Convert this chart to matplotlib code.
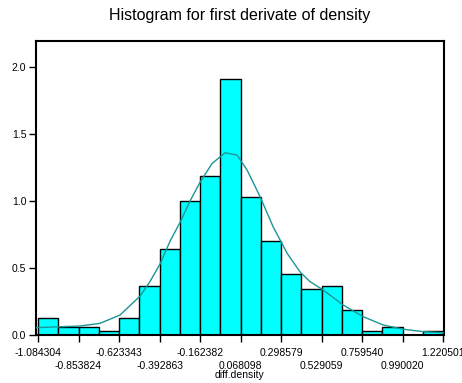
import numpy as np
import matplotlib
matplotlib.use('Agg')
import matplotlib.pyplot as plt

plt.rcParams['font.family'] = ['Liberation Sans', 'DejaVu Sans']

# histogram bin densities (20 bins)
bin_lo, bin_hi = -1.084304, 1.220501
densities = [0.124, 0.062, 0.062, 0.031, 0.124, 0.366, 0.640, 1.002, 1.184, 1.913,
             1.032, 0.699, 0.457, 0.341, 0.366, 0.184, 0.031, 0.062, 0.0, 0.031]

tick_labels = ['-1.084304', '-0.853824', '-0.623343', '-0.392863', '-0.162382', '0.068098',
               '0.298579', '0.529059', '0.759540', '0.990020', '1.220501']

# density curve
curve_x = [-1.0957, -0.8453, -0.7315, -0.6177, -0.5038, -0.4469, -0.3900, -0.3331, -0.2762,
           -0.2193, -0.1624, -0.0941, -0.0201, 0.0482, 0.1051, 0.1791, 0.2531, 0.3328,
           0.4067, 0.4636, 0.5376, 0.6514, 0.7652, 0.8790, 0.9929, 1.1067, 1.2205]
curve_y = [0.055, 0.067, 0.087, 0.149, 0.29, 0.40, 0.53, 0.70, 0.84,
           1.00, 1.14, 1.28, 1.36, 1.343, 1.231, 1.032, 0.808, 0.61,
           0.47, 0.398, 0.336, 0.224, 0.137, 0.075, 0.043, 0.025, 0.017]

edges = np.linspace(bin_lo, bin_hi, len(densities) + 1)
width = edges[1] - edges[0]
ticks = edges[::2]

fig = plt.figure(figsize=(4.62, 3.83), dpi=100)
ax = fig.add_axes([36 / 462, 1 - 335 / 383, (443.5 - 36) / 462, (335 - 41) / 383])

ax.bar(edges[:-1], densities, width=width, align='edge', color='#00FFFF',
       edgecolor='black', linewidth=1.0, zorder=2)
ax.plot(curve_x, curve_y, color='#1A9696', linewidth=1.0, zorder=3)

ax.set_xlim(-1.0957, 1.2225)
ax.set_ylim(0, 2.194)

ax.set_yticks([0.0, 0.5, 1.0, 1.5, 2.0])
ax.set_yticklabels(['0.0', '0.5', '1.0', '1.5', '2.0'])

# staggered x labels: even ticks on the first row, odd ticks on the second
ax.set_xticks(ticks[::2])
ax.set_xticklabels(tick_labels[::2])
ax.set_xticks(ticks[1::2], minor=True)
ax.set_xticklabels(tick_labels[1::2], minor=True)

ax.tick_params(axis='both', which='both', direction='out', length=5, width=1.0,
               labelsize=7.5, colors='black')
ax.tick_params(axis='x', which='major', pad=4)
ax.tick_params(axis='x', which='minor', pad=14)
ax.tick_params(axis='y', pad=2)

for sp in ax.spines.values():
    sp.set_linewidth(1.5)

ax.set_xlabel('diff.density', fontsize=7.5, labelpad=-1)
ax.set_title('Histogram for first derivate of density', fontsize=11.5, pad=15)

fig.savefig('out.png', dpi=100)
